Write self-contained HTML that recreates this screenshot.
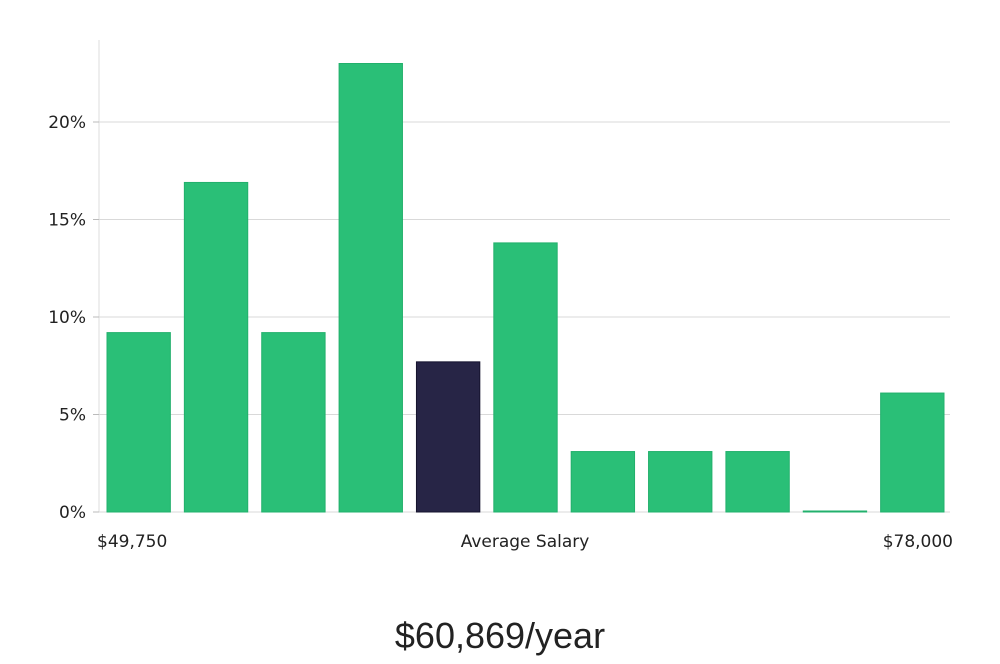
<!DOCTYPE html>
<html><head><meta charset="utf-8"><style>
body{margin:0;background:#fff;width:1000px;height:660px;overflow:hidden;font-family:"DejaVu Sans","Liberation Sans",sans-serif}
</style></head><body>
<svg id="chart" width="1000" height="660" xmlns="http://www.w3.org/2000/svg">
<g id="grid"></g><g id="bars"></g><g id="labels"></g>
</svg>
<script>
const categories=["b1","b2","b3","b4","b5","b6","b7","b8","b9","b10","b11"];
const values=[9.2,16.9,9.2,23.0,7.7,13.8,3.1,3.1,3.1,0.05,6.1];
const highlight=[false,false,false,false,true,false,false,false,false,false,false];
const yTicks=[0,5,10,15,20];
const yTickLabels=["0%","5%","10%","15%","20%"];
const xLabels=["$49,750","Average Salary","$78,000"];
const title="$60,869/year";
const NS="http://www.w3.org/2000/svg";
const x0=99,x1=950,yBase=512,pxPer=19.5;
function y(v){return yBase-v*pxPer;}
const pitch=(x1-x0)/categories.length;
function bx(i){return x0+i*pitch+8;}
const bw=pitch-14;
function mk(tag,attrs,parent,text){const e=document.createElementNS(NS,tag);for(const k in attrs)e.setAttribute(k,attrs[k]);if(text!==undefined)e.textContent=text;document.getElementById(parent)?document.getElementById(parent).appendChild(e):parent.appendChild(e);return e;}
const axis=mk("line",{x1:x0,x2:x0,y1:40,y2:yBase,stroke:"#ddd","stroke-width":1},"grid");


yTicks.forEach((t,i)=>{
 const g=mk("line",{x1:x0,x2:x1,y1:y(t),y2:y(t),stroke:"#d9d9d9","stroke-width":1},"grid");
 
 
 const tk=mk("line",{x1:x0-6,x2:x0,y1:y(t),y2:y(t),stroke:"#bbb","stroke-width":1},"grid");
 
 
 const l=mk("text",{x:x0-13,y:y(t)+6,"text-anchor":"end","font-size":"17",fill:"#222"},"labels",yTickLabels[i]);
 
 
});
values.forEach((v,i)=>{
 const h=Math.max(v*pxPer,1);
 const r=mk("rect",{x:bx(i),y:yBase-h,width:bw,height:h,fill:highlight[i]?"#272546":"#2abf77",stroke:highlight[i]?"#15132e":"#22b06c","stroke-width":1},"bars");
 
 
});
const xl=[[97,"start"],[525,"middle"],[953,"end"]];
xLabels.forEach((s,i)=>{
 const t=mk("text",{x:xl[i][0],y:547,"text-anchor":xl[i][1],"font-size":"17",fill:"#222"},"labels",s);
 
 
});
const tt=mk("text",{x:500,y:648,"text-anchor":"middle","font-size":"36",fill:"#222","font-family":"Liberation Sans, sans-serif"},"labels",title);


</script>
</body></html>
